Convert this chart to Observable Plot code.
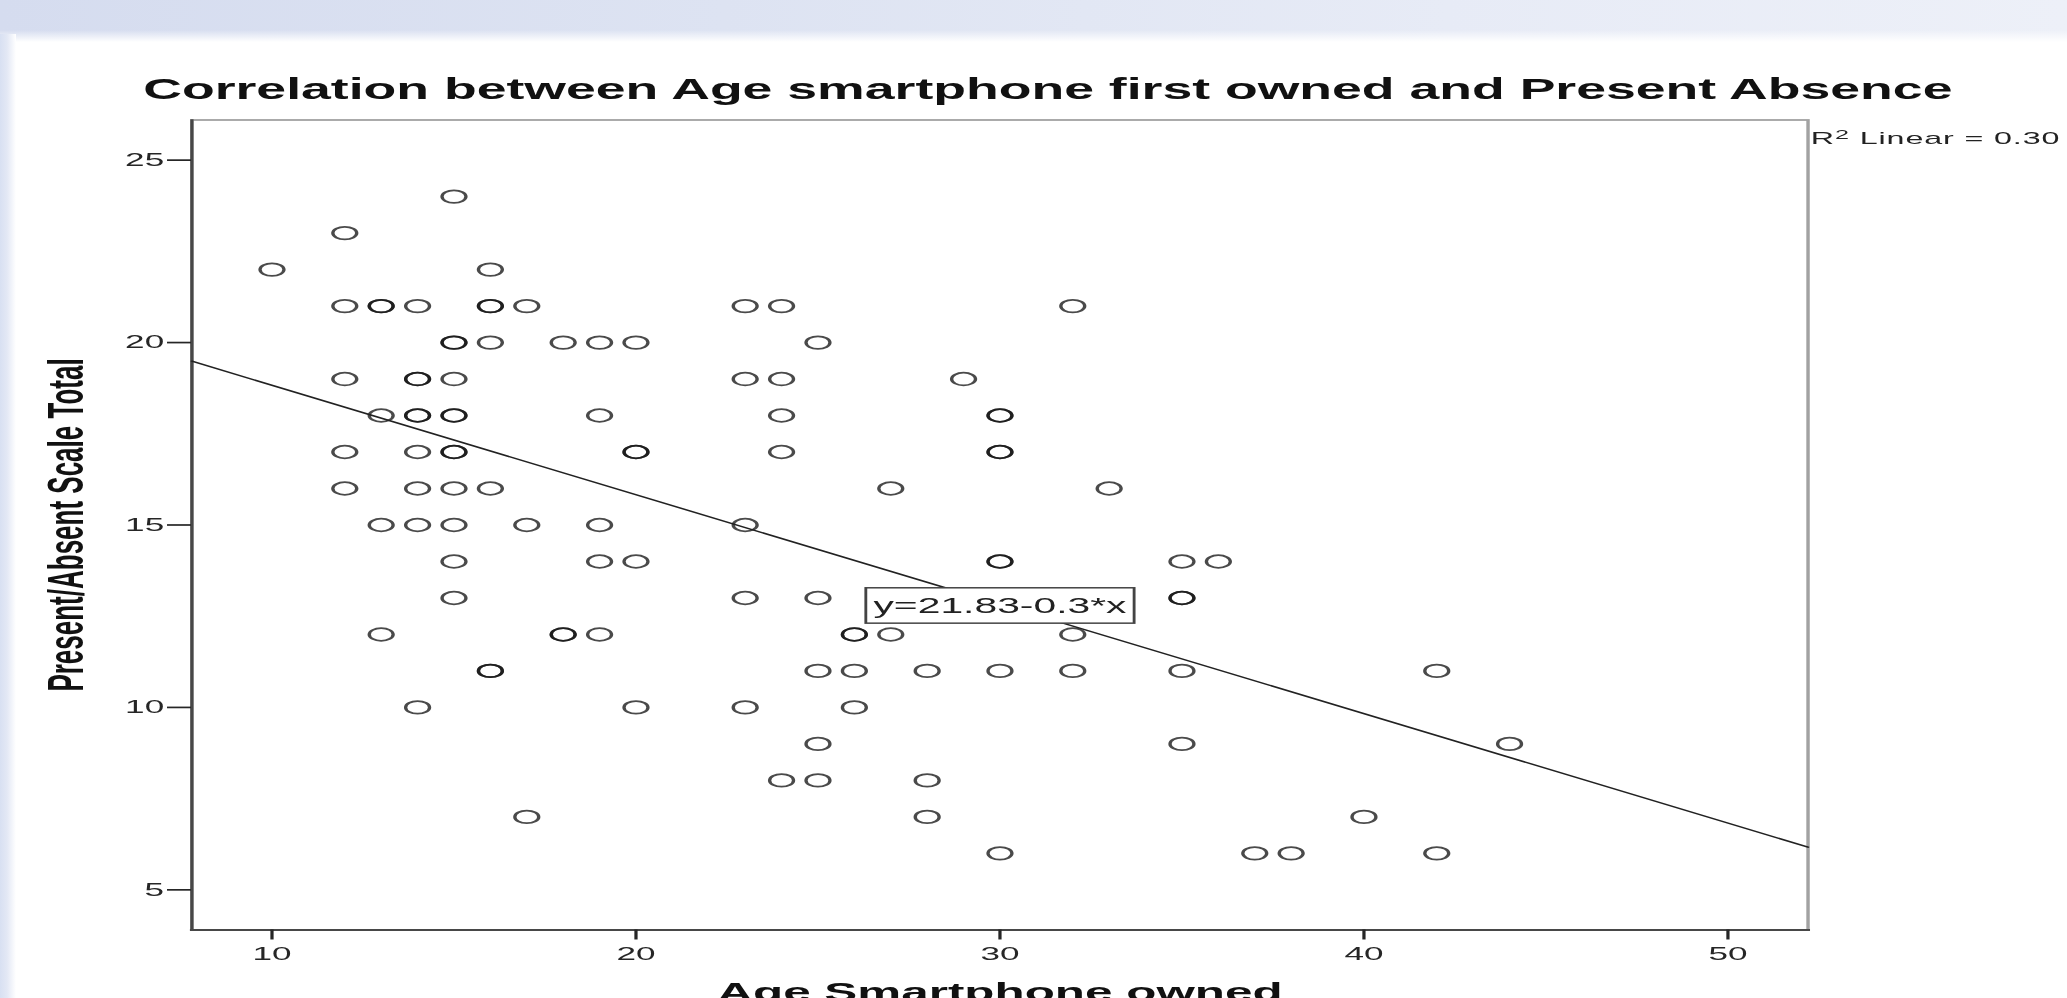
<!DOCTYPE html>
<html>
<head>
<meta charset="utf-8">
<script src="https://cdn.jsdelivr.net/npm/d3@7"></script>
<script src="https://cdn.jsdelivr.net/npm/@observablehq/plot@0.6"></script>
<style>
  html, body { margin: 0; padding: 0; width: 2067px; height: 998px; overflow: hidden; background: #ffffff; }
  #band { position: absolute; left: 0; top: 0; width: 2067px; height: 42px;
    background: linear-gradient(to bottom, rgba(255,255,255,0) 0px, rgba(255,255,255,0) 30px, #ffffff 42px),
                linear-gradient(to right, #d5dcef 0%, #dde3f2 35%, #e7ebf6 70%, #edf0f8 100%); }
  #strip { position: absolute; left: 0; top: 34px; width: 16px; height: 964px;
    background: linear-gradient(to right, #d8e0f2 0px, #e3e8f5 7px, #ffffff 16px); }
  #stage { position: absolute; left: 0; top: 0; transform-origin: 0 0; }
  #title { box-sizing: border-box; height: 110px; font-family: "Liberation Sans", Arial, sans-serif;
    font-weight: bold; font-size: 30px; line-height: 30px; color: #111; text-align: center; white-space: nowrap; }
  #title span { display: inline-block; transform-origin: 50% 50%; }
</style>
</head>
<body>
<div id="band"></div>
<div id="strip"></div>
<div id="stage">
  <div id="title"><span></span></div>
  <div id="chart"></div>
</div>
<script>
// ---- data ----
const ageOwned = [
  15,
  12,
  10, 16,
  12, 13, 13, 14, 16, 16, 17, 23, 24, 32,
  15, 15, 16, 18, 19, 20, 25,
  12, 14, 14, 15, 23, 24, 29,
  13, 14, 14, 15, 15, 19, 24, 30, 30,
  12, 14, 15, 15, 20, 20, 24, 30, 30,
  12, 14, 15, 16, 27, 33,
  13, 14, 15, 17, 19, 23,
  15, 19, 20, 30, 30, 35, 36,
  15, 23, 25, 35, 35,
  13, 18, 18, 19, 26, 26, 27, 32,
  16, 16, 25, 26, 28, 30, 32, 35, 42,
  14, 20, 23, 26,
  25, 35, 44,
  24, 25, 28,
  17, 28, 40,
  30, 37, 38, 42
];
const presentAbsent = [
  24,
  23,
  22, 22,
  21, 21, 21, 21, 21, 21, 21, 21, 21, 21,
  20, 20, 20, 20, 20, 20, 20,
  19, 19, 19, 19, 19, 19, 19,
  18, 18, 18, 18, 18, 18, 18, 18, 18,
  17, 17, 17, 17, 17, 17, 17, 17, 17,
  16, 16, 16, 16, 16, 16,
  15, 15, 15, 15, 15, 15,
  14, 14, 14, 14, 14, 14, 14,
  13, 13, 13, 13, 13,
  12, 12, 12, 12, 12, 12, 12, 12,
  11, 11, 11, 11, 11, 11, 11, 11, 11,
  10, 10, 10, 10,
  9, 9, 9,
  8, 8, 8,
  7, 7, 7,
  6, 6, 6, 6
];
const xTicks = [10, 20, 30, 40, 50];
const yTicks = [5, 10, 15, 20, 25];
const xDomain = [7.8, 52.2];
const yDomain = [3.9, 26.1];
const fitIntercept = 21.83;
const fitSlope = -0.3;
const eqText = "y=21.83-0.3*x";
const r2Label = "R\u00B2 Linear = 0.30";
const titleText = "Correlation between Age smartphone first owned and Present Absence";
const xLabel = "Age Smartphone owned";
const yLabel = "Present/Absent Scale Total";

// ---- layout (the reference image is stretched horizontally) ----
const K = 1.9;
const W = 2067 / K;
const stage = document.getElementById("stage");
stage.style.width = W + "px";
stage.style.transform = `scaleX(${K})`;
const title = document.getElementById("title");
const titleSpan = title.querySelector("span");
titleSpan.textContent = titleText;
titleSpan.style.transform = "scaleX(0.94)";
title.style.paddingTop = "73.5px";
title.style.paddingLeft = "14.4px";

const rows = ageOwned.map((a, i) => ({age: a, score: presentAbsent[i]}));
const fit = xDomain.map(x => ({x, y: fitIntercept + fitSlope * x}));
const labelX = (xDomain[0] + xDomain[1]) / 2;
const eqRow = [{x: labelX, y: fitIntercept + fitSlope * labelX, text: eqText}];

const font = "'Liberation Sans', Arial, Helvetica, sans-serif";
const svg = Plot.plot({
  width: W,
  height: 888,
  marginLeft: 100.5,
  marginRight: W - 951.1,
  marginTop: 9.5,
  marginBottom: 68.5,
  x: {domain: xDomain},
  y: {domain: yDomain},
  style: {fontFamily: font, background: "transparent", color: "#222", overflow: "visible"},
  marks: [
    Plot.frame({stroke: "#a2a2a2", strokeWidth: 1.8}),
    Plot.frame({anchor: "left", stroke: "#474747", strokeWidth: 1.7}),
    Plot.frame({anchor: "bottom", stroke: "#474747", strokeWidth: 2.1}),
    Plot.axisY(yTicks, {anchor: "left", tickSize: 12.6, tickPadding: 2, fontSize: 18.5, strokeWidth: 1.7, label: null, color: "#262626"}),
    Plot.axisX(xTicks, {anchor: "bottom", tickSize: 10, tickPadding: 6.5, fontSize: 18.5, strokeWidth: 1.7, label: null, color: "#262626"}),
    Plot.dot(rows, {x: "age", y: "score", r: 6.3, fill: "none", stroke: "#111", strokeOpacity: 0.76, strokeWidth: 1.75}),
    Plot.line(fit, {x: "x", y: "y", stroke: "#222", strokeWidth: 1.4}),
    Plot.text(eqRow, {x: "x", y: "y", text: "text", fontSize: 21.5, fill: "#222", dy: 2}),
    Plot.text([r2Label], {frameAnchor: "top-right", textAnchor: "start", lineAnchor: "top", dx: 1.5, dy: 12.2, fontSize: 17, fill: "#222"}),
    Plot.text([yLabel], {frameAnchor: "left", rotate: -90, textAnchor: "middle", lineAnchor: "top", dx: -75.9, fontSize: 26, fontWeight: "bold", fill: "#111"}),
    Plot.text([xLabel], {frameAnchor: "bottom", lineAnchor: "top", dy: 52.5, fontSize: 26, fontWeight: "bold", fill: "#111"})
  ]
});
document.getElementById("chart").append(svg);

const NS = "http://www.w3.org/2000/svg";
const texts = Array.from(svg.querySelectorAll("text"));

// white box with border behind the equation text
const t = texts.find(el => el.textContent === eqText);
if (t) {
  const bb = t.getBBox();
  const padX = 4, padY = 5.5;
  const rect = document.createElementNS(NS, "rect");
  rect.setAttribute("x", bb.x - padX);
  rect.setAttribute("y", bb.y - padY);
  rect.setAttribute("width", bb.width + 2 * padX);
  rect.setAttribute("height", bb.height + 2 * padY);
  rect.setAttribute("fill", "#ffffff");
  rect.setAttribute("stroke", "#444");
  rect.setAttribute("stroke-width", "1.5");
  const tr = t.getAttribute("transform");
  if (tr) rect.setAttribute("transform", tr);
  t.parentNode.insertBefore(rect, t);
}

// R² label: real superscript and SPSS-like spacing
const r2 = texts.find(el => el.textContent === r2Label);
if (r2) {
  const [head, rest] = [r2Label.slice(0, 1), r2Label.slice(2)];
  r2.textContent = "";
  const a = document.createElementNS(NS, "tspan"); a.textContent = head;
  const b = document.createElementNS(NS, "tspan"); b.textContent = "2";
  b.setAttribute("dy", "-0.38em"); b.setAttribute("font-size", "0.78em");
  const c = document.createElementNS(NS, "tspan"); c.textContent = rest;
  c.setAttribute("dy", "0.3em");
  r2.append(a, b, c);
  r2.style.letterSpacing = "0.45px";
}
</script>
</body>
</html>
